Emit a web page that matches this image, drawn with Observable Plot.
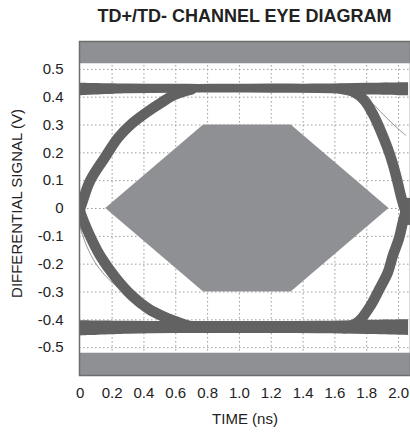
<!DOCTYPE html>
<html><head><meta charset="utf-8">
<script src="https://cdn.jsdelivr.net/npm/d3@7"></script>
<script src="https://cdn.jsdelivr.net/npm/@observablehq/plot@0.6"></script>
<style>
body{margin:0;background:#fff;font-family:"Liberation Sans",Arial,sans-serif;}
#title{height:30px;width:410px;box-sizing:border-box;padding-left:79px;text-align:center;font-weight:bold;font-size:18px;line-height:33px;color:#222;overflow:visible;white-space:nowrap}
</style></head><body>
<div id="title">TD+/TD- CHANNEL EYE DIAGRAM</div>
<div id="chart"></div>
<script>
// Tick values
const xTicks = [0, 0.2, 0.4, 0.6, 0.8, 1.0, 1.2, 1.4, 1.6, 1.8, 2.0];
const yTicks = [-0.5, -0.4, -0.3, -0.2, -0.1, 0, 0.1, 0.2, 0.3, 0.4, 0.5];
const xDomain = [-0.005, 2.075];
const yDomain = [-0.6, 0.6];

// Gray mask bands (V)
const bandLow = [0.52, -0.6];
const bandHigh = [0.6, -0.52];

// Eye mask hexagon (ns, V)
const maskT = [0.16, 0.775, 1.325, 1.94];
const maskTop = [0, 0.3, 0.3, 0];
const maskBottom = [0, -0.3, -0.3, 0];

// Rails (ns, V edges)
const railT = [0, 0.3, 0.6, 0.9, 1.2, 1.5, 1.8, 2.063];
const topRailLo = [0.405, 0.412, 0.414, 0.415, 0.414, 0.413, 0.408, 0.405];
const topRailHi = [0.45, 0.447, 0.446, 0.446, 0.447, 0.447, 0.45, 0.452];
const botRailHi = [-0.403, -0.405, -0.406, -0.406, -0.406, -0.405, -0.402, -0.40];
const botRailLo = [-0.458, -0.452, -0.449, -0.449, -0.449, -0.45, -0.453, -0.457];

// Transition bundles (ns, V)
const riseLeftT = [-0.02, 0.01, 0.062, 0.156, 0.24, 0.324, 0.418, 0.513, 0.597, 0.7];
const riseLeftV = [-0.035, 0.018, 0.10, 0.185, 0.256, 0.305, 0.346, 0.382, 0.41, 0.428];
const fallLeftT = [-0.02, 0.0, 0.05, 0.125, 0.22, 0.324, 0.43, 0.534, 0.617, 0.72];
const fallLeftV = [0.04, -0.013, -0.085, -0.17, -0.247, -0.313, -0.361, -0.391, -0.409, -0.428];
const fallRightT = [1.64, 1.72, 1.786, 1.838, 1.887, 1.929, 1.964, 1.992, 2.017, 2.06];
const fallRightV = [0.43, 0.418, 0.388, 0.34, 0.28, 0.22, 0.16, 0.10, 0.04, -0.04];
const riseRightT = [1.66, 1.75, 1.824, 1.88, 1.933, 1.964, 2.002, 2.027, 2.06];
const riseRightV = [-0.43, -0.405, -0.349, -0.289, -0.229, -0.169, -0.109, -0.049, 0.02];
// Stray traces
const strayRightT = [1.80, 1.90, 2.0, 2.045];
const strayRightV = [0.40, 0.34, 0.285, 0.263];
const strayLeftT = [0.0, 0.04, 0.1, 0.18, 0.26];
const strayLeftV = [-0.07, -0.135, -0.2, -0.255, -0.295];

const fmt = d => d === 0 ? "0" : d.toFixed(1);

const mask = maskT.map((t, i) => ({t, lo: maskBottom[i], hi: maskTop[i]}));
const rails = [];
railT.forEach((t, i) => {
  rails.push({k: "top", t, lo: topRailLo[i], hi: topRailHi[i]});
  rails.push({k: "bot", t, lo: botRailLo[i], hi: botRailHi[i]});
});
const bundles = [];
[["rl", riseLeftT, riseLeftV], ["fl", fallLeftT, fallLeftV], ["fr", fallRightT, fallRightV], ["rr", riseRightT, riseRightV]]
  .forEach(([k, T, V]) => T.forEach((t, i) => bundles.push({k, t, v: V[i]})));
const strays = [];
[["sr", strayRightT, strayRightV], ["sl", strayLeftT, strayLeftV]]
  .forEach(([k, T, V]) => T.forEach((t, i) => strays.push({k, t, v: V[i]})));

const traceColor = "#626262";
const maskColor = "#8f9094";

const chart = Plot.plot({
  width: 410, height: 407,
  marginTop: 11, marginBottom: 62, marginLeft: 79, marginRight: 0,
  x: {domain: xDomain},
  y: {domain: yDomain},
  style: {fontFamily: "'Liberation Sans', Arial, sans-serif", fontSize: "15px", color: "#222", background: "white", overflow: "visible"},
  marks: [
    Plot.gridX(xTicks.filter(d => d > 0), {stroke: "#9a9a9a", strokeOpacity: 1, strokeDasharray: "1.5,2.5"}),
    Plot.gridY(yTicks, {stroke: "#9a9a9a", strokeOpacity: 1, strokeDasharray: "1.5,2.5"}),
    Plot.rect(bandLow.map((d, i) => i), {x1: () => xDomain[0], x2: () => xDomain[1], y1: i => bandLow[i], y2: i => bandHigh[i], fill: maskColor}),
    Plot.areaY(mask, {x: "t", y1: "lo", y2: "hi", fill: maskColor}),
    Plot.areaY(rails, {x: "t", y1: "lo", y2: "hi", z: "k", fill: traceColor, curve: "catmull-rom", clip: true}),
    Plot.line(bundles, {x: "t", y: "v", z: "k", stroke: traceColor, strokeWidth: 10.5, curve: "catmull-rom", clip: true}),
    Plot.line(strays, {x: "t", y: "v", z: "k", stroke: "#777", strokeWidth: 0.8, curve: "catmull-rom", clip: true}),
    Plot.frame({stroke: "#6e6e6e", strokeWidth: 1.5}),
    Plot.axisX(xTicks, {tickSize: 0, tickPadding: 12, tickFormat: fmt, label: null, fontSize: 15}),
    Plot.axisY(yTicks, {tickSize: 0, tickPadding: 16, tickFormat: fmt, label: null, fontSize: 15}),
    Plot.text(["TIME (ns)"], {frameAnchor: "bottom", dy: 48, fontSize: 15}),
    Plot.text(["DIFFERENTIAL SIGNAL (V)"], {frameAnchor: "left", textAnchor: "middle", dx: -62, dy: -5, rotate: -90, fontSize: 15})
  ]
});
document.getElementById("chart").appendChild(chart);
</script>
</body></html>
